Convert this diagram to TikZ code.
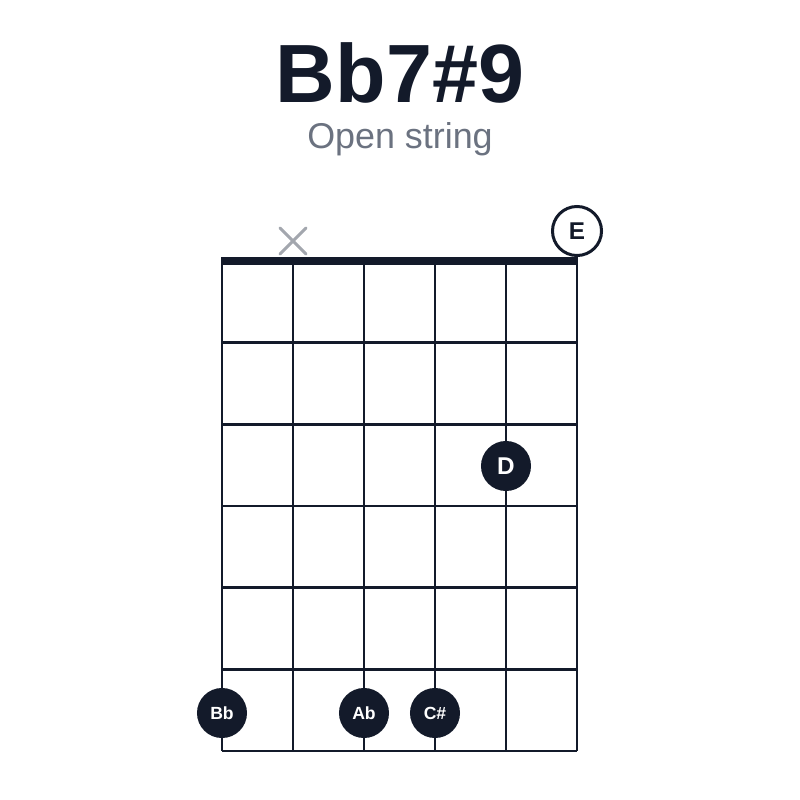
\documentclass[tikz,border=0pt]{standalone}
\usepackage{fontspec}
\setmainfont{Liberation Sans}
\definecolor{ink}{HTML}{131A2A}
\definecolor{mute}{HTML}{6B7280}
\definecolor{cross}{HTML}{A3A7AE}
\tikzset{
  fingerdot/.style={circle,fill=ink,text=white,minimum size=0.5cm,inner sep=0pt,
    font=\fontsize{5}{6}\selectfont\bfseries},
  opendot/.style={circle,draw=ink,fill=white,line width=0.03cm,minimum size=0.49cm,
    inner sep=0pt,text=ink,font=\fontsize{6.9}{8}\selectfont\bfseries},
  gridline/.style={ink,line width=0.025cm}
}
\begin{document}
\begin{tikzpicture}[x=0.01cm,y=-0.01cm]
   \useasboundingbox (0,0) rectangle (800,800);
   \node[anchor=base,text=ink,font=\fontsize{23.5}{28}\selectfont\bfseries]
     (title) at (400,102) {Bb7\#9};
   \node[anchor=base,text=mute,font=\fontsize{10.2}{12}\selectfont]
     (subtitle) at (400,148) {Open string};
   \foreach \s in {0,...,5}
     \draw[gridline] (222+71*\s,261) -- (222+71*\s,751);
   \foreach \f in {1,...,6}
     \draw[gridline] (222,261+81.67*\f) -- (577,261+81.67*\f);
   \draw[ink,line width=0.08cm] (221,261) -- (578,261);
   \draw[cross,line width=0.03cm,line cap=round]
     (280,228) -- (306,254) (280,254) -- (306,228);
   \node[opendot] (openE) at (577,231) {E};
   \node[fingerdot,font=\fontsize{6.9}{8}\selectfont\bfseries] (noteD) at (506,466) {D};
   \node[fingerdot] (noteBb) at (222,713) {Bb};
   \node[fingerdot] (noteAb) at (364,713) {Ab};
   \node[fingerdot] (noteCs) at (435,713) {C\#};
 \end{tikzpicture}
\end{document}
